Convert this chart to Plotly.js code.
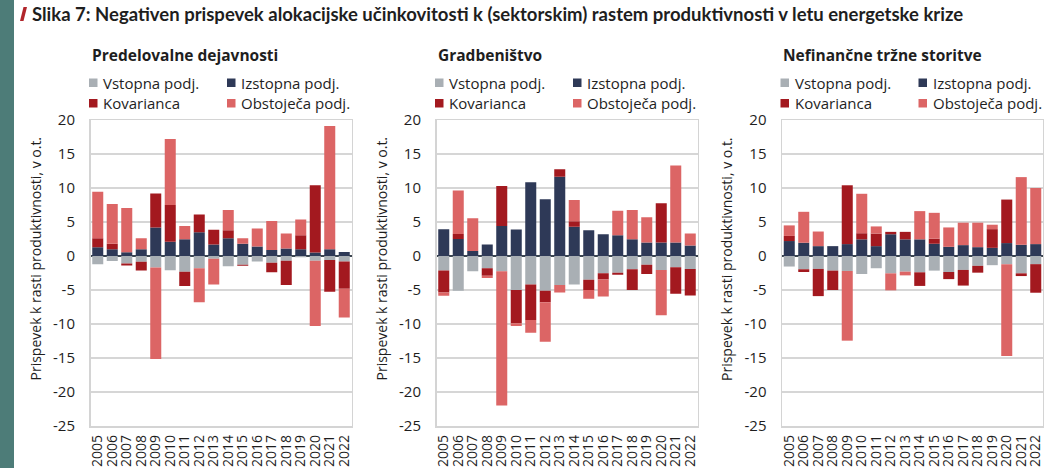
<!DOCTYPE html>
<html>
<head>
<meta charset="utf-8">
<script src="https://cdn.plot.ly/plotly-3.0.1.min.js"></script>
<style>
html,body{margin:0;padding:0;background:#fff;}
#chart{width:1044px;height:468px;}
</style>
</head>
<body>
<div id="chart"></div>
<script>
// ---- data ----
const years = ["2005","2006","2007","2008","2009","2010","2011","2012","2013","2014","2015","2016","2017","2018","2019","2020","2021","2022"];
const seriesNames = ["Vstopna podj.", "Izstopna podj.", "Kovarianca", "Obstoječa podj."];
const panelTitles = ["Predelovalne dejavnosti", "Gradbeništvo", "Nefinančne tržne storitve"];
const mainTitle = "Slika 7: Negativen prispevek alokacijske učinkovitosti k (sektorskim) rastem produktivnosti v letu energetske krize";
const yAxisTitle = "Prispevek k rasti produktivnosti, v o.t.";

// Predelovalne dejavnosti
const vstopna1 = [-1.2, -0.75, -1.1, -0.85, -1.7, -2.1, -2.3, -1.8, -0.4, -1.5, -1.3, -0.8, -1.0, -0.7, -0.2, -0.7, -0.6, -0.8];
const izstopna1 = [1.3, 1.0, 0.55, 1.0, 4.2, 2.1, 2.45, 3.5, 1.7, 2.6, 1.8, 1.4, 0.9, 1.1, 1.0, 0.5, 1.0, 0.6];
const kovarianca1 = [1.3, 0.8, -0.3, -1.3, 5.0, 5.4, -2.1, 2.6, 2.15, 1.2, -0.15, 0, -1.4, -3.55, 2.05, 9.9, -4.65, -4.0];
const obstojeca1 = [6.85, 5.85, 6.5, 1.6, -13.45, 9.7, 1.95, -5.0, -3.8, 2.95, 0.8, 2.65, 4.25, 2.2, 2.3, -9.6, 18.1, -4.25];

// Gradbeništvo
const vstopna2 = [-2.15, -5.1, -2.25, -1.8, -2.25, -5.0, -4.2, -5.1, -4.25, -4.2, -3.5, -2.55, -2.45, -1.95, -1.3, -2.05, -1.65, -1.9];
const izstopna2 = [3.95, 2.5, 0.75, 1.7, 4.4, 3.9, 10.85, 8.35, 11.65, 4.3, 3.8, 3.2, 3.05, 2.45, 2.0, 2.0, 2.0, 1.55];
const kovarianca2 = [-3.2, 0.75, 0, -1.1, 5.9, -4.9, -5.2, -1.7, 1.1, 0.8, -1.5, -0.9, -0.3, -3.05, -1.35, 5.75, -3.9, -3.9];
const obstojeca2 = [-0.5, 6.4, 4.8, -0.35, -19.75, -0.4, -1.9, -5.8, -1.1, 3.15, -1.3, -2.5, 3.6, 4.3, 3.7, -6.65, 11.3, 1.75];

// Nefinančne tržne storitve
const vstopna3 = [-1.55, -1.95, -1.9, -2.15, -2.2, -2.65, -1.8, -2.55, -2.3, -2.4, -2.15, -2.35, -2.05, -1.45, -1.35, -1.2, -2.55, -1.2];
const izstopna3 = [2.2, 1.95, 1.45, 1.45, 1.75, 2.45, 1.45, 3.2, 2.45, 2.45, 1.8, 1.35, 1.6, 1.3, 1.2, 1.9, 1.65, 1.75];
const kovarianca3 = [0.75, -0.4, -4.0, -2.85, 8.65, 0.9, 1.85, 0.35, 1.1, -2.0, 0.75, -1.05, -2.3, -1.0, 2.75, 6.4, -0.4, -4.2];
const obstojeca3 = [1.55, 4.55, 2.15, 0, -10.25, 5.8, 1.05, -2.5, -0.55, 4.15, 3.8, 2.85, 3.3, 3.6, 0.65, -13.5, 9.95, 8.25];

const yTickVals = [20, 15, 10, 5, 0, -5, -10, -15, -20, -25];

// ---- styling ----
const colors = ["#a9afb4", "#2e3957", "#a3191f", "#dc6565"];
const W = 1044, H = 468;
const FONT = "'Open Sans', 'Liberation Sans', sans-serif";
const TFONT = "Lato, 'Open Sans', sans-serif";
const TXT = "#1e1e1e";
const px = x => x / W;
const py = y => 1 - y / H;

const plotTop = 120, plotBottom = 426;
const panelLeft = [90.5, 436.5, 782];
const panelWidth = 261;

const panels = [
  [vstopna1, izstopna1, kovarianca1, obstojeca1],
  [vstopna2, izstopna2, kovarianca2, obstojeca2],
  [vstopna3, izstopna3, kovarianca3, obstojeca3]
];

const data = [];
panels.forEach((series, p) => {
  const sfx = p === 0 ? "" : String(p + 1);
  series.forEach((vals, s) => {
    data.push({
      type: "bar",
      x: years,
      y: vals,
      name: seriesNames[s],
      xaxis: "x" + sfx,
      yaxis: "y" + sfx,
      marker: {color: colors[s], line: {width: 0}},
      showlegend: false,
      hoverinfo: "x+y+name"
    });
  });
});

const layout = {
  width: W, height: H,
  margin: {l: 0, r: 0, t: 0, b: 0},
  paper_bgcolor: "#ffffff",
  plot_bgcolor: "#ffffff",
  barmode: "relative",
  bargap: 0.24,
  font: {family: FONT, size: 15, color: TXT},
  showlegend: false,
  shapes: [],
  annotations: []
};

panels.forEach((_, p) => {
  const sfx = p === 0 ? "" : String(p + 1);
  const L = panelLeft[p];
  layout["xaxis" + sfx] = {
    domain: [px(L), px(L + panelWidth)],
    anchor: "y" + sfx,
    type: "category",
    tickmode: "array",
    tickvals: years,
    ticktext: years,
    tickangle: -90,
    tickfont: {family: FONT, size: 14, color: TXT},
    showline: true, mirror: true, linecolor: "#d4d4d4", linewidth: 1.5,
    showgrid: false, ticks: "", ticklabelstandoff: 2,
    fixedrange: true
  };
  layout["yaxis" + sfx] = {
    domain: [py(plotBottom), py(plotTop)],
    anchor: "x" + sfx,
    range: [-25, 20],
    tickvals: yTickVals,
    ticktext: yTickVals.map(String),
    tickfont: {family: FONT, size: 15, color: TXT},
    showgrid: true, gridcolor: "#d6d6d6", gridwidth: 1.5,
    zeroline: true, zerolinecolor: "#3c4650", zerolinewidth: 2,
    showline: true, mirror: true, linecolor: "#d4d4d4", linewidth: 1.5,
    ticks: "", ticklabelstandoff: 11,
    fixedrange: true
  };
  // panel title
  layout.annotations.push({
    xref: "paper", yref: "paper", x: px(L - 1), y: py(55),
    xanchor: "left", yanchor: "middle", showarrow: false,
    text: "<b>" + panelTitles[p] + "</b>",
    font: {family: FONT, size: 15.5, color: TXT}
  });
  // y-axis title
  layout.annotations.push({
    xref: "paper", yref: "paper", x: px(L - 56), y: py(259),
    xanchor: "center", yanchor: "middle", showarrow: false,
    textangle: -90,
    text: yAxisTitle,
    font: {family: FONT, size: 14, color: TXT}
  });
  // legend (2 x 2)
  const pos = [[L + 10.5, 82.5], [L + 148.5, 82.5], [L + 10.5, 103], [L + 148.5, 103]];
  seriesNames.forEach((nm, s) => {
    const [tx, ty] = pos[s];
    layout.shapes.push({
      type: "rect", xref: "paper", yref: "paper",
      x0: px(tx - 12), x1: px(tx - 3.5), y0: py(ty + 4.5), y1: py(ty - 4),
      fillcolor: colors[s], line: {width: 0}
    });
    layout.annotations.push({
      xref: "paper", yref: "paper", x: px(tx), y: py(ty),
      xanchor: "left", yanchor: "middle", showarrow: false,
      text: nm, font: {family: FONT, size: 15, color: TXT}
    });
  });
});

// left teal strip
layout.shapes.push({
  type: "rect", xref: "paper", yref: "paper",
  x0: 0, x1: px(14), y0: 0, y1: 1,
  fillcolor: "#4d7c78", line: {width: 0}, layer: "below"
});
// red slash marker before the main title
layout.shapes.push({
  type: "path", xref: "paper", yref: "paper",
  path: `M ${px(20)} ${py(21)} L ${px(23.5)} ${py(21)} L ${px(27)} ${py(7)} L ${px(23.5)} ${py(7)} Z`,
  fillcolor: "#b1252b", line: {width: 0}
});
// main title
layout.annotations.push({
  xref: "paper", yref: "paper", x: px(30), y: py(14),
  xanchor: "left", yanchor: "middle", showarrow: false,
  text: "<b>" + mainTitle + "</b>",
  font: {family: TFONT, size: 18.5, color: TXT}
});

Plotly.newPlot("chart", data, layout, {displayModeBar: false, staticPlot: true});
</script>
</body>
</html>
